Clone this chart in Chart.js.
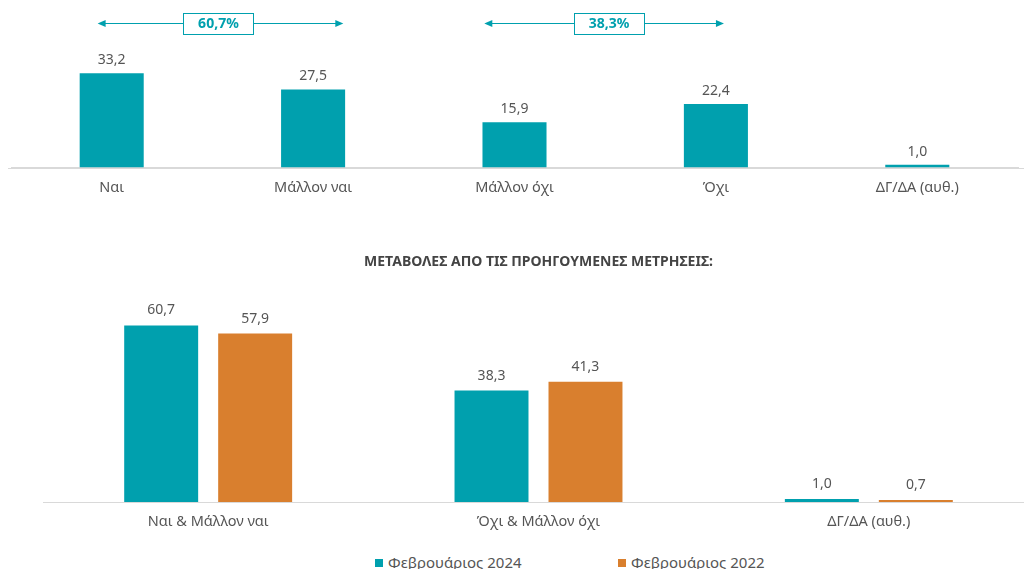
<!DOCTYPE html>
<html>
<head>
<meta charset="utf-8">
<script src="https://cdn.jsdelivr.net/npm/chart.js@4/dist/chart.umd.min.js"></script>
<style>
html,body{margin:0;padding:0;width:1024px;height:569px;overflow:hidden;background:#fff;font-family:"Noto Sans",sans-serif}
#c1{position:absolute;left:0;top:0}
#c2{position:absolute;left:0;top:240px}
.leg{position:absolute;top:552px;font-size:15px;color:#555;white-space:nowrap;line-height:20px}
.leg i{display:inline-block;width:8px;height:8px;margin-right:5px;vertical-align:1px}
</style>
</head>
<body>
<canvas id="c1" width="1024" height="200"></canvas>
<canvas id="c2" width="1040" height="297"></canvas>
<div class="leg" id="leg0" style="left:375px"></div>
<div class="leg" id="leg1" style="left:618px"></div>
<script>
// ---- data ----
const topCategories = ['Ναι', 'Μάλλον ναι', 'Μάλλον όχι', 'Όχι', 'ΔΓ/ΔΑ (αυθ.)'];
const topValues = [33.2, 27.5, 15.9, 22.4, 1.0];
const bottomCategories = ['Ναι & Μάλλον ναι', 'Όχι & Μάλλον όχι', 'ΔΓ/ΔΑ (αυθ.)'];
const series2024 = [60.7, 38.3, 1.0];
const series2022 = [57.9, 41.3, 0.7];
const seriesNames = ['Φεβρουάριος 2024', 'Φεβρουάριος 2022'];
const bottomTitle = 'ΜΕΤΑΒΟΛΕΣ ΑΠΟ ΤΙΣ ΠΡΟΗΓΟΥΜΕΝΕΣ ΜΕΤΡΗΣΕΙΣ:';
const groupIndices = [[0, 1], [2, 3]];

// ---- style ----
const TEAL = '#00A0AE';
const ORANGE = '#D97F2E';
const TEXT = '#555555';
const AXIS = '#d9d9d9';
const FONT = '"Noto Sans", sans-serif';
const fmt = v => v.toFixed(1).replace('.', ',');

const valueLabels = {
  id: 'valueLabels',
  afterDatasetsDraw(chart, args, opts) {
    const ctx = chart.ctx;
    ctx.save();
    ctx.font = opts.font;
    ctx.fillStyle = opts.color;
    ctx.textAlign = 'center';
    ctx.textBaseline = 'middle';
    chart.data.datasets.forEach((ds, i) => {
      chart.getDatasetMeta(i).data.forEach((bar, j) => {
        ctx.fillText(fmt(ds.data[j]), bar.x, bar.y - opts.offset);
      });
    });
    ctx.restore();
  }
};

const axisExtend = {
  id: 'axisExtend',
  beforeDatasetsDraw(chart, args, opts) {
    const ctx = chart.ctx, a = chart.chartArea;
    ctx.save();
    ctx.strokeStyle = AXIS; ctx.lineWidth = 1;
    ctx.beginPath();
    ctx.moveTo(opts.left, Math.round(a.bottom) + 0.5);
    ctx.lineTo(opts.right, Math.round(a.bottom) + 0.5);
    ctx.stroke();
    ctx.restore();
  }
};

const brackets = {
  id: 'brackets',
  afterDraw(chart, args, opts) {
    const ctx = chart.ctx, xs = chart.scales.x, ys = chart.scales.y;
    const vals = chart.data.datasets[0].data;
    ctx.save();
    opts.items.forEach((it, k) => {
      const sum = groupIndices[k].reduce((a, i) => a + vals[i], 0);
      const x0 = xs.getPixelForValue(it.from), x1 = xs.getPixelForValue(it.to);
      const xc = xs.getPixelForValue(it.box), y = Math.round(ys.getPixelForValue(it.level)) + 0.5;
      ctx.strokeStyle = TEAL; ctx.fillStyle = TEAL; ctx.lineWidth = 1;
      ctx.beginPath(); ctx.moveTo(x0 + 4, y); ctx.lineTo(x1 - 4, y); ctx.stroke();
      ctx.beginPath(); ctx.moveTo(x0, y); ctx.lineTo(x0 + 8, y - 3.5); ctx.lineTo(x0 + 8, y + 3.5); ctx.closePath(); ctx.fill();
      ctx.beginPath(); ctx.moveTo(x1, y); ctx.lineTo(x1 - 8, y - 3.5); ctx.lineTo(x1 - 8, y + 3.5); ctx.closePath(); ctx.fill();
      const w = 70, h = 21;
      ctx.fillStyle = '#fff';
      ctx.fillRect(xc - w / 2, y - h / 2, w, h);
      ctx.strokeRect(Math.round(xc - w / 2) + 0.5, Math.round(y - h / 2) + 0.5, w, h);
      ctx.fillStyle = TEAL;
      ctx.font = 'bold 14px ' + FONT;
      ctx.textAlign = 'center'; ctx.textBaseline = 'middle';
      ctx.fillText(fmt(sum) + '%', xc, y + 0.5);
    });
    ctx.restore();
  }
};

new Chart(document.getElementById('c1'), {
  type: 'bar',
  data: {
    labels: topCategories,
    datasets: [{ data: topValues, backgroundColor: TEAL, categoryPercentage: 0.318, barPercentage: 1 }]
  },
  options: {
    responsive: false, animation: false,
    layout: { padding: { left: 11, right: 6, top: 0, bottom: 0 } },
    plugins: {
      legend: { display: false }, tooltip: { enabled: false },
      valueLabels: { font: '14px ' + FONT, color: TEXT, offset: 13 },
      axisExtend: { left: 8, right: 1024 },
      brackets: { items: [ { from: -0.07, to: 1.15, box: 0.53, level: 51 }, { from: 1.85, to: 3.04, box: 2.47, level: 51 } ] }
    },
    scales: {
      x: {
        grid: { display: false, drawTicks: false },
        border: { display: true, color: AXIS, width: 1 },
        ticks: { color: TEXT, font: { family: FONT, size: 14.5 }, padding: 12, maxRotation: 0 },
        afterFit: s => { s.height = 32.5; }
      },
      y: { display: false, min: 0, max: 59 }
    }
  },
  plugins: [axisExtend, valueLabels, brackets]
});

new Chart(document.getElementById('c2'), {
  type: 'bar',
  data: {
    labels: bottomCategories,
    datasets: [
      { label: seriesNames[0], data: series2024, backgroundColor: TEAL, categoryPercentage: 0.569, barPercentage: 0.787 },
      { label: seriesNames[1], data: series2022, backgroundColor: ORANGE, categoryPercentage: 0.569, barPercentage: 0.787 }
    ]
  },
  options: {
    responsive: false, animation: false,
    layout: { padding: { left: 43, right: 6, top: 0, bottom: 0 } },
    plugins: {
      legend: { display: false }, tooltip: { enabled: false },
      title: { display: true, text: bottomTitle, fullSize: false, color: '#444', font: { family: FONT, size: 14, weight: 'bold' }, padding: { top: 13.6, bottom: 10.5 } },
      valueLabels: { font: '14px ' + FONT, color: TEXT, offset: 15 }
    },
    scales: {
      x: {
        grid: { display: false, drawTicks: false },
        border: { display: true, color: AXIS, width: 1 },
        ticks: { color: TEXT, font: { family: FONT, size: 14.5 }, padding: 11, maxRotation: 0 },
        afterFit: s => { s.height = 35; }
      },
      y: { display: false, min: 0, max: 76 }
    }
  },
  plugins: [valueLabels]
});

// HTML legend
[TEAL, ORANGE].forEach((c, i) => {
  const el = document.getElementById('leg' + i);
  const sw = document.createElement('i');
  sw.style.background = c;
  el.appendChild(sw);
  el.appendChild(document.createTextNode(seriesNames[i]));
});
</script>
</body>
</html>
